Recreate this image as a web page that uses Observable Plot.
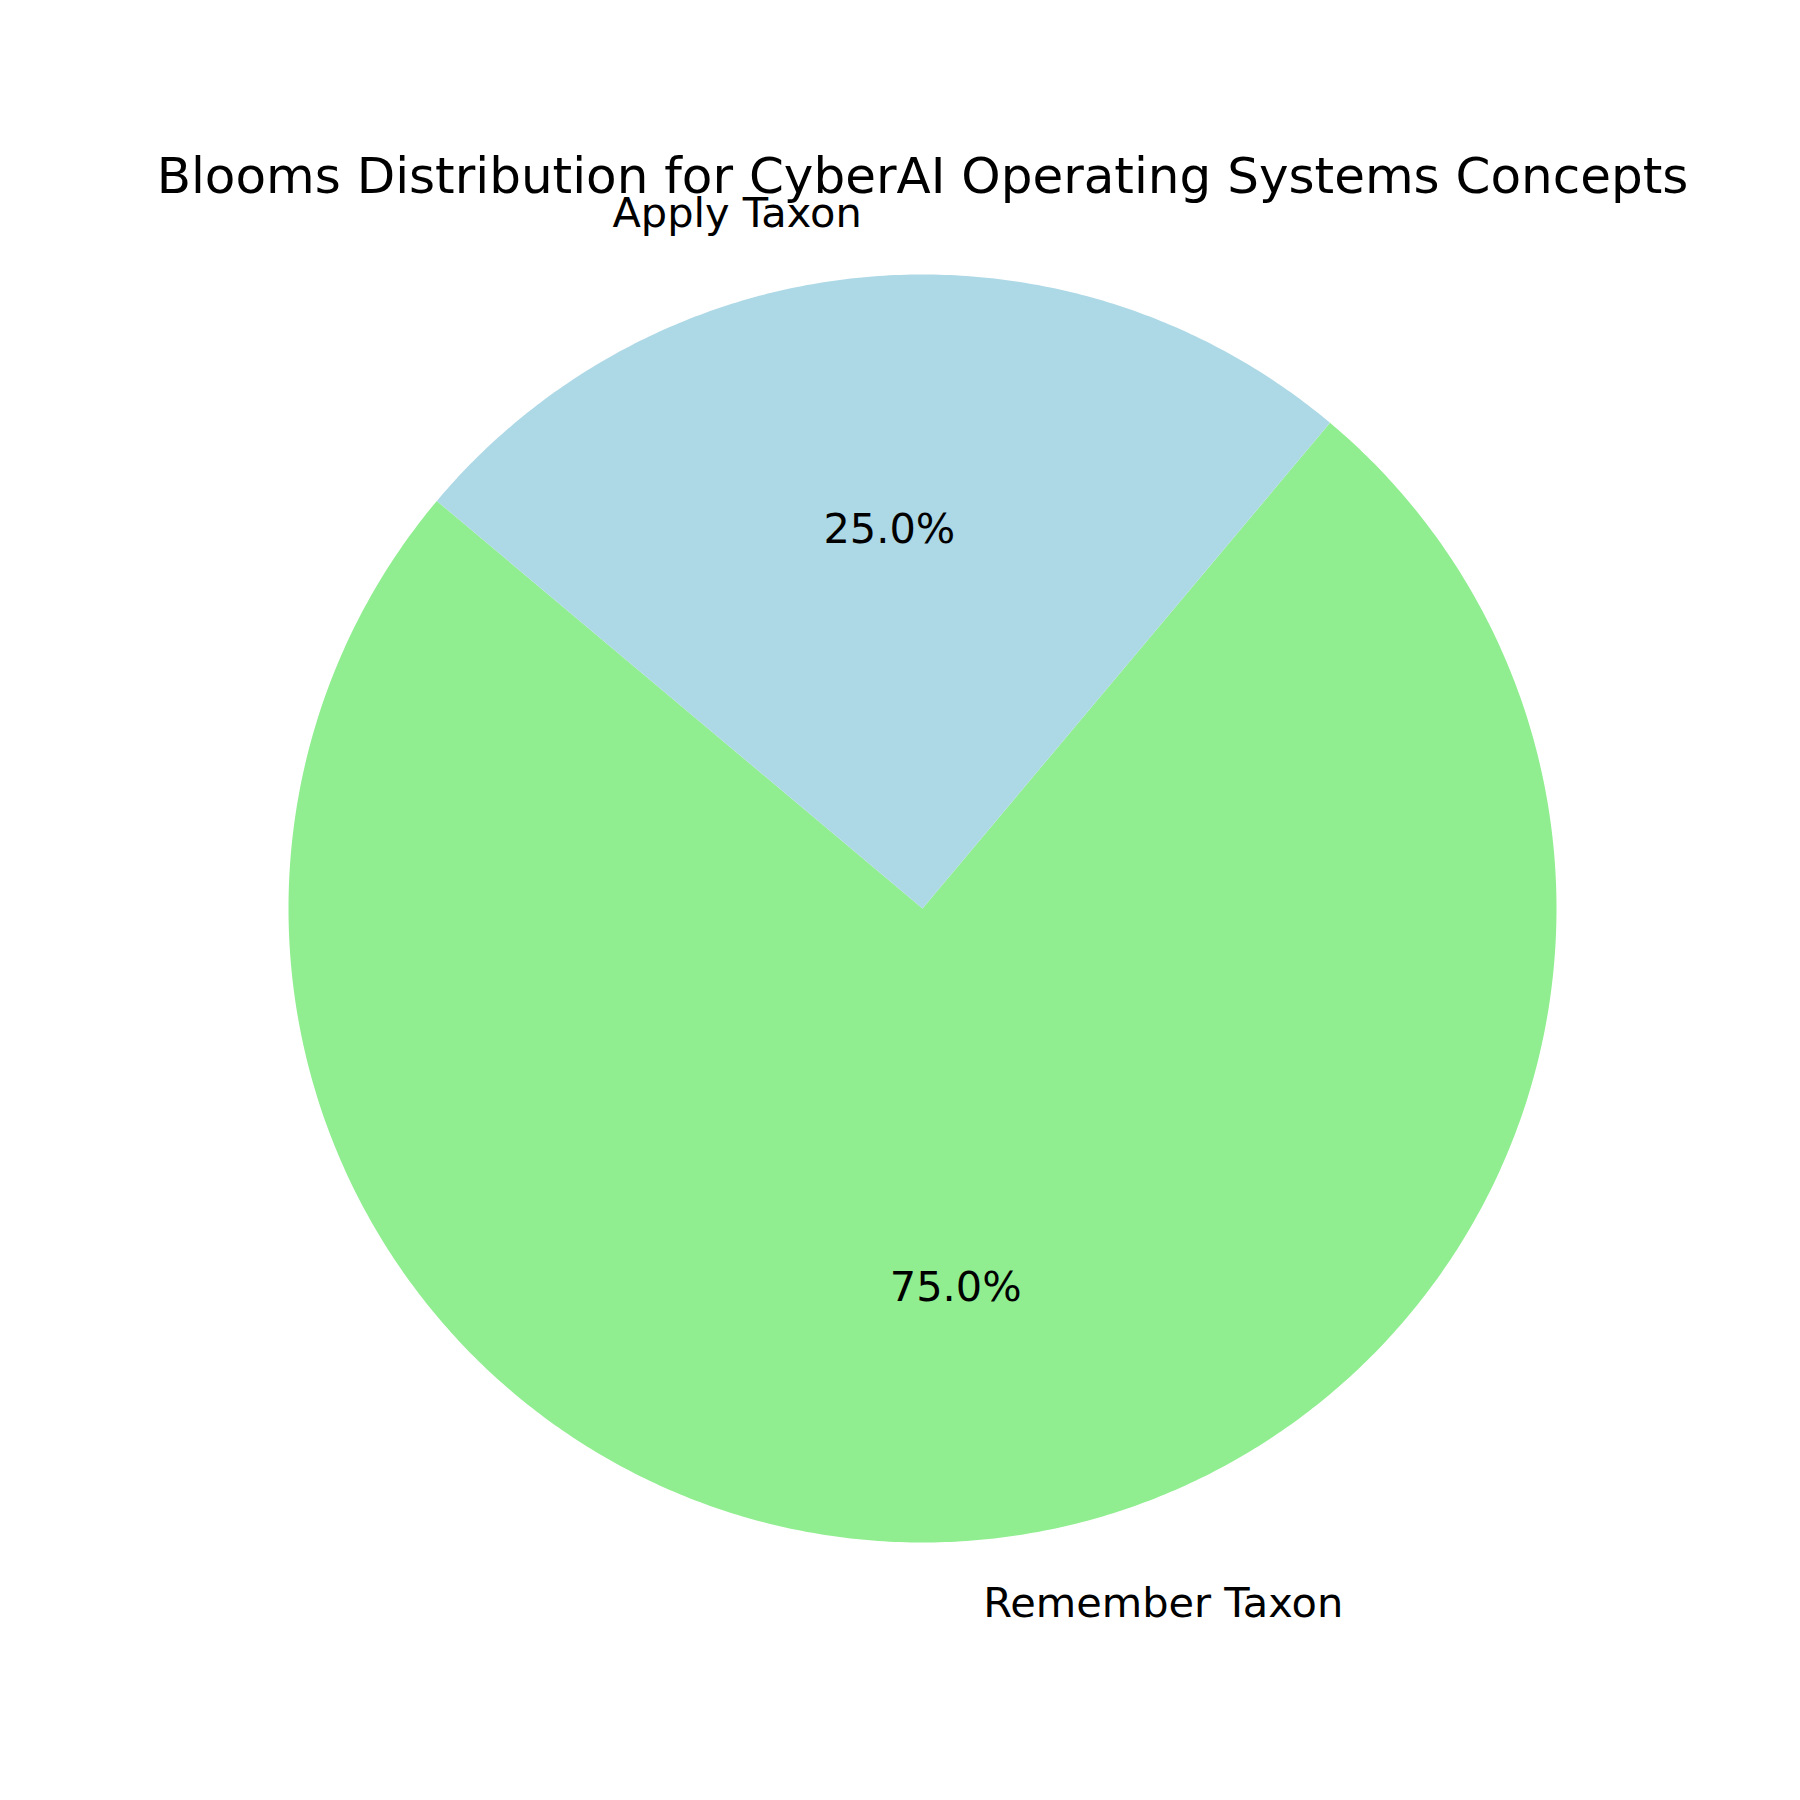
<!DOCTYPE html>
<html>
<head>
<meta charset="utf-8">
<script src="https://cdn.jsdelivr.net/npm/d3@7"></script>
<script src="https://cdn.jsdelivr.net/npm/@observablehq/plot@0.6"></script>
<style>
  html, body { margin: 0; padding: 0; background: #ffffff; }
  #chart { width: 1800px; height: 1800px; }
</style>
</head>
<body>
<div id="chart"></div>
<script>
// ---- data ----
const labels = ["Remember Taxon", "Apply Taxon"];
const values = [75, 25];
const colors = ["#90EE90", "#ADD8E6"];
const title = "Blooms Distribution for CyberAI Operating Systems Concepts";
const startAngle = 140;      // degrees, counter-clockwise like matplotlib
const labelDistance = 1.1;
const pctDistance = 0.6;

// ---- build wedges from data ----
const total = d3.sum(values);
const wedgePts = [];
const labelRows = [];
const pctRows = [];
let a0 = startAngle;
values.forEach((v, i) => {
  const span = 360 * v / total;
  const a1 = a0 + span;
  const steps = Math.max(8, Math.ceil(span * 2));
  wedgePts.push({label: labels[i], x: 0, y: 0});
  for (let k = 0; k <= steps; k++) {
    const t = (a0 + (a1 - a0) * k / steps) * Math.PI / 180;
    wedgePts.push({label: labels[i], x: Math.cos(t), y: Math.sin(t)});
  }
  wedgePts.push({label: labels[i], x: 0, y: 0});
  const mid = (a0 + a1) / 2 * Math.PI / 180;
  const lx = labelDistance * Math.cos(mid), ly = labelDistance * Math.sin(mid);
  labelRows.push({label: labels[i], x: lx, y: ly, anchor: lx >= 0 ? "start" : "end"});
  pctRows.push({text: (100 * v / total).toFixed(1) + "%", x: pctDistance * Math.cos(mid), y: pctDistance * Math.sin(mid)});
  a0 = a1;
});

const plot = Plot.plot({
  width: 1800,
  height: 1800,
  marginLeft: 44,
  marginRight: 0,
  marginTop: 0,
  marginBottom: 0,
  style: {fontFamily: "DejaVu Sans", background: "#ffffff"},
  x: {domain: [-1, 1], range: [288, 1556], axis: null},
  y: {domain: [-1, 1], range: [1542, 274], axis: null},
  color: {domain: labels, range: colors},
  marks: [
    Plot.line(wedgePts, {x: "x", y: "y", z: "label", fill: "label", stroke: "none", curve: "linear"}),
    Plot.text(labelRows.filter(d => d.anchor === "start"), {x: "x", y: "y", text: "label", textAnchor: "start", lineAnchor: "middle", fontSize: 41.5, fill: "black"}),
    Plot.text(labelRows.filter(d => d.anchor === "end"), {x: "x", y: "y", text: "label", textAnchor: "end", lineAnchor: "middle", fontSize: 41.5, fill: "black"}),
    Plot.text(pctRows, {x: "x", y: "y", text: "text", textAnchor: "middle", lineAnchor: "middle", fontSize: 41.5, fill: "black"}),
    Plot.text([title], {frameAnchor: "top", dy: 176, text: d => d, textAnchor: "middle", lineAnchor: "middle", fontSize: 50, fill: "black"})
  ]
});
document.getElementById("chart").appendChild(plot);
</script>
</body>
</html>
